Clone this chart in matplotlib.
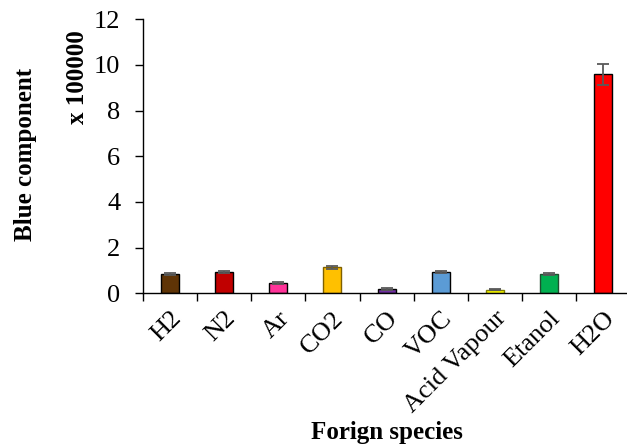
import numpy as np
import matplotlib
matplotlib.use('Agg')
import matplotlib.pyplot as plt
from matplotlib.ticker import FixedLocator

species = ['H2', 'N2', 'Ar', 'CO2', 'CO', 'VOC', 'Acid Vapour', 'Etanol', 'H2O']
blue = [0.83, 0.93, 0.44, 1.14, 0.19, 0.93, 0.16, 0.83, 9.59]
err = [0.05, 0.05, 0.04, 0.06, 0.03, 0.05, 0.03, 0.05, 0.47]
colors = ['#5f3406', '#c00000', '#ff3399', '#ffc000', '#7030a0',
          '#5b9bd5', '#ffff00', '#00b050', '#ff0000']
edges = ['black', 'black', 'black', '#7f6000', 'black',
         'black', '#7f7f00', '#1f4f2f', 'black']

plt.rcParams['font.family'] = ['Liberation Serif', 'DejaVu Serif']

fig = plt.figure(figsize=(6.27, 4.45), dpi=100)
ax = fig.add_axes([142.7 / 627, 1 - 293.3 / 445, 487.8 / 627, 274 / 445])

x = np.arange(len(species))
ax.bar(x, blue, width=0.33, color=colors, edgecolor=edges, linewidth=1.0,
       yerr=err, ecolor='#595959', capsize=4,
       error_kw={'elinewidth': 1.3, 'capthick': 1.3}, zorder=2)

ax.set_xlim(-0.5, len(species) - 0.5)
ax.set_ylim(0, 12)
ax.set_yticks(range(0, 13, 2))
ax.tick_params(axis='y', labelsize=19, length=6, width=1, pad=10, direction='out')

ax.set_xticks(x)
ax.set_xticklabels(species, rotation=45, ha='right', va='top',
                   rotation_mode='anchor', fontsize=19)
ax.tick_params(axis='x', which='major', length=0, pad=10)
ax.xaxis.set_minor_locator(FixedLocator(np.arange(-0.5, len(species), 1.0)))
ax.tick_params(axis='x', which='minor', length=6, width=1, direction='out')

for s in ['top', 'right']:
    ax.spines[s].set_visible(False)
for s in ['left', 'bottom']:
    ax.spines[s].set_linewidth(1.0)

fig.text(26 / 627, 1 - 154 / 445, 'Blue component', rotation=90, fontsize=18,
         fontweight='bold', ha='center', va='center')
fig.text(77 / 627, 1 - 77.5 / 445, 'x 100000', rotation=90, fontsize=18,
         fontweight='bold', ha='center', va='center')
fig.text(387 / 627, 1 - 433 / 445, 'Forign species', fontsize=18,
         fontweight='bold', ha='center', va='center')

fig.savefig('out.png', dpi=100)
